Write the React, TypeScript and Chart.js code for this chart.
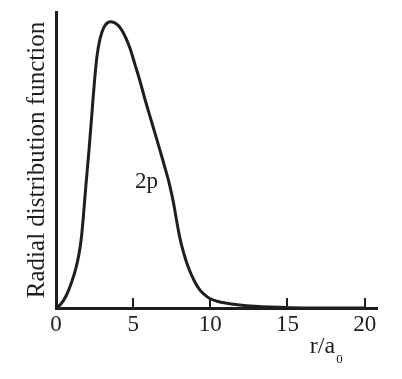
import React, { useEffect, useRef } from 'react';
import { Chart, registerables } from 'chart.js';

Chart.register(...registerables);

// r / a0 values (x) and radial distribution function values (y, arbitrary units)
const rValues = [
  0, 0.32, 0.65, 0.97, 1.29, 1.49, 1.65, 1.78, 1.94, 2.14, 2.33, 2.49, 2.65, 2.85, 3.11, 3.37, 3.56,
  3.88, 4.21, 4.53, 4.79, 5.11, 5.44, 5.76, 6.08, 6.41, 6.73, 7.05, 7.38, 7.64, 7.83, 8.03, 8.22,
  8.41, 8.67, 9.0, 9.32, 9.64, 9.97, 10.49, 11.07, 11.91, 12.88, 13.85, 15.15, 17.09, 20,
];
const pValues = [
  0, 1.35, 4.05, 8.1, 13.5, 18.2, 24.0, 31.4, 41.6, 53.4, 65.9, 76.4, 84.8, 90.9, 94.9, 96.5, 96.7,
  96.1, 94.3, 91.2, 87.8, 82.4, 76.7, 70.6, 64.9, 59.1, 53.4, 47.6, 41.2, 34.8, 29.1, 23.6, 19.6,
  16.2, 12.5, 8.8, 6.1, 4.4, 3.2, 2.2, 1.6, 1.0, 0.57, 0.3, 0.1, 0, 0,
];
const xTicks = [0, 5, 10, 15, 20];

const yTitle = 'Radial distribution function';
const xTitleMain = 'r/a';
const xTitleSub = '0';
const curveLabel = '2p';
const curveLabelX = 5.86;
const curveLabelY = 40.7;

const INK = '#1e1e1e';
const FONT = '"Liberation Serif", "Times New Roman", serif';

const annotations = {
  id: 'annotations',
  afterDraw(chart: any) {
    const { ctx, chartArea, scales } = chart;
    const x = scales.x;
    const y = scales.y;
    ctx.save();
    // inward tick marks
    ctx.strokeStyle = INK;
    ctx.lineWidth = 2;
    xTicks.forEach((v) => {
      if (v === 0) return;
      const px = Math.round(x.getPixelForValue(v));
      ctx.beginPath();
      ctx.moveTo(px, chartArea.bottom);
      ctx.lineTo(px, chartArea.bottom - 10);
      ctx.stroke();
    });
    // curve label
    ctx.fillStyle = INK;
    ctx.font = `23px ${FONT}`;
    ctx.textAlign = 'center';
    ctx.textBaseline = 'alphabetic';
    ctx.fillText(curveLabel, x.getPixelForValue(curveLabelX), y.getPixelForValue(curveLabelY));
    // x-axis title with subscript
    ctx.textAlign = 'left';
    ctx.font = `24px ${FONT}`;
    const tx = x.getPixelForValue(16.45);
    const ty = chartArea.bottom + 45;
    ctx.fillText(xTitleMain, tx, ty);
    const w = ctx.measureText(xTitleMain).width;
    ctx.font = `13px ${FONT}`;
    ctx.fillText(xTitleSub, tx + w + 1, ty + 10);
    ctx.restore();
  },
};

export default function App() {
  const ref = useRef<HTMLCanvasElement | null>(null);

  useEffect(() => {
    if (!ref.current) return;
    const chart = new Chart(ref.current, {
      type: 'line',
      data: {
        datasets: [
          {
            data: rValues.map((r, i) => ({ x: r, y: pValues[i] })),
            borderColor: INK,
            borderWidth: 3,
            pointRadius: 0,
            fill: false,
            cubicInterpolationMode: 'monotone',
          },
        ],
      },
      options: {
        animation: false,
        responsive: false,
        events: [],
        layout: { padding: { left: 0, top: 12, right: 25, bottom: 0 } },
        plugins: { legend: { display: false }, tooltip: { enabled: false } },
        scales: {
          x: {
            type: 'linear',
            min: 0,
            max: 20.8,
            grid: { display: false, drawTicks: false },
            border: { display: true, width: 3, color: INK },
            afterBuildTicks: (s: any) => {
              s.ticks = xTicks.map((v) => ({ value: v }));
            },
            afterFit: (s: any) => {
              s.height = 71;
            },
            ticks: {
              color: INK,
              padding: 3,
              maxRotation: 0,
              font: { family: FONT, size: 23 },
            },
          },
          y: {
            type: 'linear',
            min: 0,
            max: 100,
            grid: { display: false, drawTicks: false },
            border: { display: true, width: 3, color: INK },
            ticks: { display: false },
            afterFit: (s: any) => {
              s.width = 56;
            },
            title: {
              display: true,
              text: yTitle,
              color: INK,
              font: { family: FONT, size: 25 },
              padding: { top: 22, bottom: 0 },
            },
          },
        },
      },
      plugins: [annotations],
    });
    return () => chart.destroy();
  }, []);

  return (
    <div style={{ position: 'fixed', left: 0, top: 0, width: 402, height: 379, background: '#fff' }}>
      <canvas ref={ref} width={402} height={379} style={{ display: 'block' }} />
    </div>
  );
}
